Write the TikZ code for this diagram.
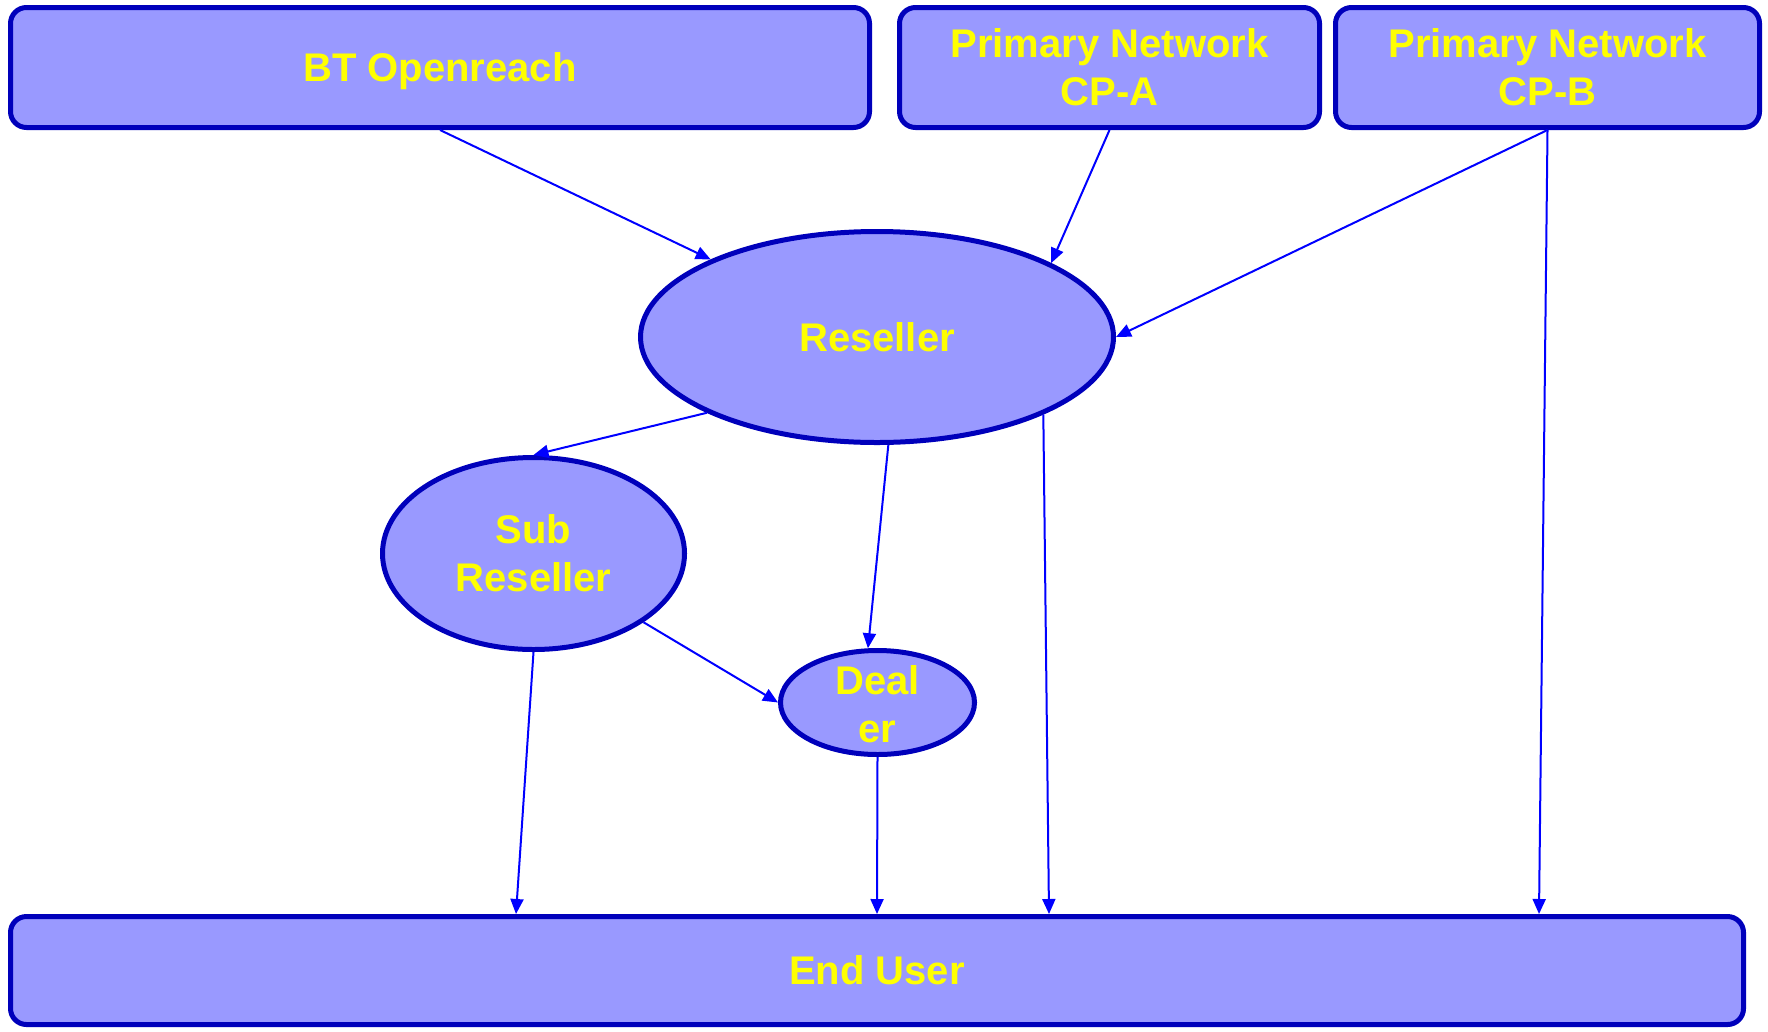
\documentclass[tikz,border=0pt]{standalone}
\usepackage{fontspec}
\setmainfont{Liberation Sans}
\usetikzlibrary{arrows.meta,shapes.geometric}
\definecolor{boxfill}{HTML}{9999FF}
\definecolor{boxline}{HTML}{0000BB}
\definecolor{arrowc}{HTML}{0000FF}
\definecolor{txtc}{HTML}{FFFF00}
\begin{document}
\begin{tikzpicture}[x=1pt,y=-1pt,
  base/.style={draw=boxline, fill=boxfill, line width=5pt, text=txtc,
    font=\fontsize{40}{48}\selectfont\bfseries, align=center, inner sep=0pt},
  rbox/.style={base, rectangle, rounded corners=16pt},
  ell/.style={base, ellipse},
  lbl/.style={text=txtc, font=\fontsize{40}{48}\selectfont\bfseries, align=center, inner sep=0pt},
  conn/.style={draw=arrowc, line width=2pt, -{Triangle[length=15pt,width=13pt]}}]
\useasboundingbox (0,0) rectangle (1768,1031);

\node[rbox, minimum width=859pt, minimum height=120pt, text depth=0pt] (bt) at (440,67.5) {BT Openreach};
\node[rbox, minimum width=420pt, minimum height=120pt] (cpa) at (1109.5,67.5) {Primary Network\\CP-A};
\node[rbox, minimum width=424pt, minimum height=120pt] (cpb) at (1547.5,67.5) {Primary Network\\CP-B};

\node[ell, minimum width=473pt, minimum height=211pt] (res) at (877,337) {Reseller};
\node[ell, minimum width=302pt, minimum height=192pt] (sub) at (533.5,553.5) {Sub\\Reseller};
\node[ell, minimum width=194pt, minimum height=104pt] (dealer) at (877.5,702.5) {};
\node[lbl] (dealertxt) at (877.5,704) {Deal\\er};

\node[rbox, minimum width=1733pt, minimum height=108pt] (eu) at (877,970.5) {End User};

\coordinate (euA) at ([xshift=-361pt]eu.north);
\coordinate (euB) at ([xshift=172pt]eu.north);
\coordinate (euC) at ([xshift=662pt]eu.north);

\draw[conn] (bt.south) -- (res.155);
\draw[conn] (cpa.south) -- (res.23);
\draw[conn] (cpb.south) -- (res.east);
\draw[conn] (cpb.south) -- (euC);
\draw[conn] (res.204) -- (sub.north);
\draw[conn] (res.276) -- (dealer.100);
\draw[conn] (res.335) -- (euB);
\draw[conn] (sub.328) -- (dealer.west);
\draw[conn] (sub.south) -- (euA);
\draw[conn] (dealer.south) -- (eu.north);
\end{tikzpicture}
\end{document}
